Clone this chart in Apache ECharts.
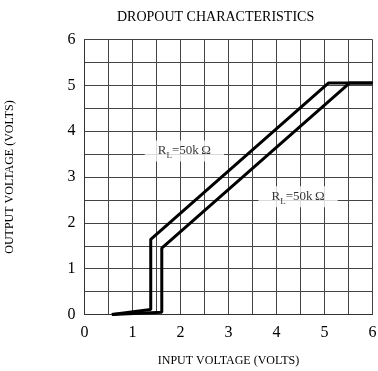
<!DOCTYPE html>
<html>
<head>
<meta charset="utf-8">
<script src="https://cdn.jsdelivr.net/npm/echarts@6/dist/echarts.min.js"></script>
<style>
  html, body { margin: 0; padding: 0; background: #fff; }
  #chart { width: 378px; height: 371px; }
</style>
</head>
<body>
<div id="chart"></div>
<script>
// Output voltage vs input voltage for two regulator curves
const curveLeft = [[0.57, 0], [1.38, 0.11], [1.38, 1.64], [5.08, 5.05], [6, 5.05]];
const curveRight = [[0.57, 0], [1.61, 0.05], [1.61, 1.45], [5.52, 5.05], [6, 5.05]];

// Load annotations: [x, y] in volts
const loadLabelPositions = [[2.08, 3.57], [4.45, 2.57]];
const loadLabelText = '{r|R}{s|L}{r|=50k\u2009Ω}';

const axisTicks = [0, 1, 2, 3, 4, 5, 6];

const serif = '"Liberation Serif", "DejaVu Serif", serif';

const chart = echarts.init(document.getElementById('chart'));

const axisCommon = {
  type: 'value',
  min: 0,
  max: 6,
  interval: 0.5,
  nameLocation: 'middle',
  nameTextStyle: { fontFamily: serif, fontSize: 12, color: '#000' },
  axisLine: { show: true, lineStyle: { color: '#333', width: 1 } },
  axisTick: { show: false },
  axisLabel: {
    fontFamily: serif,
    fontSize: 16,
    color: '#000',
    formatter: v => (axisTicks.indexOf(v) >= 0 ? String(v) : '')
  },
  splitLine: { show: true, lineStyle: { color: '#444', width: 1 } }
};

chart.setOption({
  backgroundColor: '#fff',
  animation: false,
  title: {
    text: 'DROPOUT CHARACTERISTICS',
    left: 112,
    top: 5,
    textStyle: { fontFamily: serif, fontSize: 14, fontWeight: 'normal', color: '#000' }
  },
  grid: { left: 84.5, right: 5.5, top: 39.5, bottom: 56.5, outerBoundsMode: 'none', containLabel: false },
  xAxis: Object.assign({}, axisCommon, {
    name: 'INPUT VOLTAGE (VOLTS)',
    nameGap: 40,
    axisLabel: Object.assign({}, axisCommon.axisLabel, { margin: 10 })
  }),
  yAxis: Object.assign({}, axisCommon, {
    name: 'OUTPUT VOLTAGE (VOLTS)',
    nameGap: 69,
    axisLabel: Object.assign({}, axisCommon.axisLabel, { margin: 9 })
  }),
  series: [
    {
      type: 'line',
      data: curveLeft,
      symbol: 'none',
      lineStyle: { color: '#000', width: 3 },
      z: 3
    },
    {
      type: 'line',
      data: curveRight,
      symbol: 'none',
      lineStyle: { color: '#000', width: 3 },
      z: 3
    },
    {
      type: 'scatter',
      data: loadLabelPositions,
      symbolSize: 0,
      silent: true,
      z: 4,
      label: {
        show: true,
        position: 'inside',
        formatter: loadLabelText,
        backgroundColor: '#fff',
        padding: [4, 13, 4, 13],
        rich: {
          r: { fontFamily: serif, fontSize: 13, color: '#000', verticalAlign: 'bottom' },
          s: { fontFamily: serif, fontSize: 9, color: '#000', verticalAlign: 'bottom', padding: [0, 0, -3, 0] }
        }
      }
    }
  ]
});
</script>
</body>
</html>
